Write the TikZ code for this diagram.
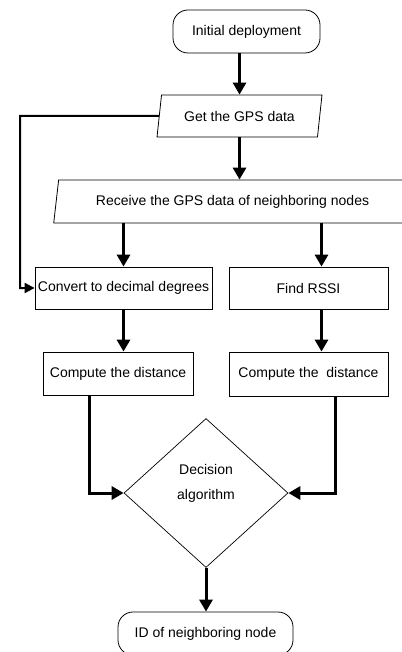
\documentclass[tikz,border=0pt]{standalone}
\usepackage{fontspec}
\setmainfont{Liberation Sans}
\usetikzlibrary{shapes.geometric,arrows.meta}
\tikzstyle{terminal} = [draw, line width=0.8pt, rectangle, rounded corners=15pt, minimum height=43pt, inner sep=2pt]
\tikzstyle{datos} = [draw, line width=0.8pt, trapezium, trapezium left angle=77, trapezium right angle=103, trapezium stretches=true, minimum height=42pt, inner sep=2pt]
\tikzstyle{proceso} = [draw, line width=0.8pt, rectangle, minimum height=42pt, inner sep=2pt]
\tikzstyle{decision} = [draw, line width=0.7pt, diamond, minimum width=164pt, minimum height=149pt, inner sep=0pt]
\tikzstyle{flecha} = [line width=3pt, -{Triangle[length=12pt,width=13pt]}]
\tikzstyle{retorno} = [line width=2pt, -{Triangle[length=10pt,width=10pt]}]

\begin{document}
\begin{tikzpicture}[x=1pt,y=-1pt,font=\fontsize{14}{17}\selectfont]
	\useasboundingbox (0,0) rectangle (401,652);
	\node[terminal, minimum width=147pt](init) at (246.5,31.5) {Initial deployment};
	\node[datos, minimum width=165pt](gps) at (239.5,116) {Get the GPS data};
	\node[datos, minimum width=359pt, minimum height=43pt](recv) at (232.5,201.5) {Receive the GPS data of neighboring nodes};
	\node[proceso, minimum width=177pt](conv) at (123.5,288) {Convert to decimal degrees};
	\node[proceso, minimum width=159pt](rssi) at (308.5,288) {Find RSSI};
	\node[proceso, minimum width=150pt, minimum height=43pt](comp1) at (118,373.5) {Compute the distance};
	\node[proceso, minimum width=159pt, minimum height=44pt](comp2) at (308.5,374) {Compute the\ \ distance};
	\node[decision](dec) at (206,493) {};
	\node[align=center, font=\fontsize{14}{25}\selectfont](dectext) at (206,483) {Decision\\algorithm};
	\node[terminal, minimum width=175pt](idn) at (205.5,633.5) {ID of neighboring node};
	\coordinate (fb) at (20,116);

	\draw[flecha] (init.south -| gps.north) -- (gps.north);
	\draw[flecha] (gps.south) -- (gps.south |- recv.north);
	\draw[retorno] (gps.west) -- (fb) |- (conv.west);
	\draw[flecha] (conv.north |- recv.south) -- (conv.north);
	\draw[flecha] ([xshift=13pt]rssi.north |- recv.south) -- ([xshift=13pt]rssi.north);
	\draw[flecha] (conv.south) -- (conv.south |- comp1.north);
	\draw[flecha] ([xshift=13pt]rssi.south) -- ([xshift=13pt]rssi.south |- comp2.north);
	\draw[flecha] ([xshift=-29pt]comp1.south) |- (dec.west);
	\draw[flecha] ([xshift=26.5pt]comp2.south) |- (dec.east);
	\draw[flecha] (dec.south) -- (dec.south |- idn.north);
\end{tikzpicture}
\end{document}
